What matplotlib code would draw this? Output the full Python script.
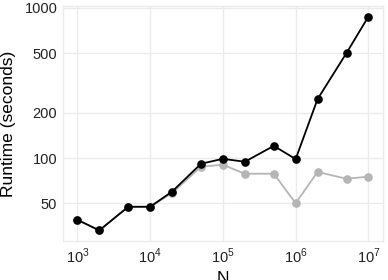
import numpy as np
import matplotlib
matplotlib.use("Agg")
import matplotlib.pyplot as plt
from matplotlib.ticker import FixedLocator, FixedFormatter, NullLocator

plt.rcParams['font.family'] = ['Liberation Sans', 'DejaVu Sans']
plt.rcParams['mathtext.fontset'] = 'custom'
plt.rcParams['mathtext.rm'] = 'Liberation Sans'

# data
n_values = [1e3, 2e3, 5e3, 1e4, 2e4, 5e4, 1e5, 2e5, 5e5, 1e6, 2e6, 5e6, 1e7]
runtime_black = [38.8, 33.0, 47.4, 47.4, 59.8, 91.7, 98.9, 94.5, 120.6, 98.5, 247, 501, 876]
runtime_gray = [38.8, 33.0, 47.4, 47.4, 58.5, 87.6, 90.3, 78.7, 78.7, 50.1, 80.8, 72.9, 75.2]

x_ticks = [1e3, 1e4, 1e5, 1e6, 1e7]
x_labels = [r'$10^{3}$', r'$10^{4}$', r'$10^{5}$', r'$10^{6}$', r'$10^{7}$']
y_ticks = [50, 100, 200, 500, 1000]
y_labels = ['50', '100', '200', '500', '1000']

grid_col = '#EBEBEB'

fig = plt.figure(figsize=(3.88, 2.80), dpi=100)
ax = fig.add_axes([0.162, 0.139, 0.825, 0.840])

ax.plot(n_values, runtime_gray, color='#B5B5B5', lw=1.3, marker='o', ms=5.2, zorder=3)
ax.plot(n_values, runtime_black, color='black', lw=1.3, marker='o', ms=5.2, zorder=4)

ax.set_xscale('log')
ax.set_yscale('log')

# ggplot style 5% expansion in log space
lx = np.log10([min(n_values), max(n_values)])
ex = (lx[1] - lx[0]) * 0.05
ax.set_xlim(10 ** (lx[0] - ex), 10 ** (lx[1] + ex))
ally = runtime_black + runtime_gray
ly = np.log10([min(ally), max(ally)])
ey = (ly[1] - ly[0]) * 0.05
ax.set_ylim(10 ** (ly[0] - ey), 10 ** (ly[1] + ey))

ax.xaxis.set_major_locator(FixedLocator(x_ticks))
ax.xaxis.set_major_formatter(FixedFormatter(x_labels))
ax.xaxis.set_minor_locator(NullLocator())
ax.yaxis.set_major_locator(FixedLocator(y_ticks))
ax.yaxis.set_major_formatter(FixedFormatter(y_labels))
ax.yaxis.set_minor_locator(NullLocator())

ax.grid(True, color=grid_col, lw=1.0)
ax.set_axisbelow(True)
for s in ax.spines.values():
    s.set_color(grid_col)
    s.set_linewidth(1.0)
ax.tick_params(length=0, labelsize=10.5, labelcolor='#222222', pad=4)

ax.set_xlabel('N', fontsize=12.5, labelpad=4)
ax.set_ylabel('Runtime (seconds)', fontsize=12.5, labelpad=6)

fig.savefig('out.png', dpi=100)
